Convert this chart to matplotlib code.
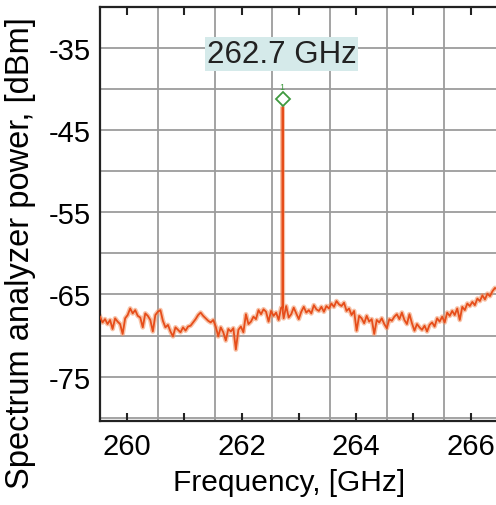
import matplotlib
matplotlib.use("Agg")
import matplotlib.pyplot as plt
import numpy as np

plt.rcParams["font.family"] = ["Liberation Sans", "DejaVu Sans"]
plt.rcParams["axes.unicode_minus"] = False

# noise floor of the spectrum analyzer trace
noise_power = [
    -67.7, -68.4, -68.0, -68.6, -68.1, -69.2, -67.9, -68.3,
    -68.6, -69.8, -67.9, -67.5, -66.7, -67.3, -66.9, -67.6,
    -67.8, -69.0, -67.3, -67.6, -68.1, -69.5, -67.5, -67.1,
    -66.9, -68.2, -69.0, -68.7, -69.5, -70.1, -69.0, -69.3,
    -69.6, -69.0, -69.4, -68.9, -68.8, -68.4, -68.0, -67.5,
    -67.2, -67.6, -67.9, -68.2, -68.4, -68.1, -68.9, -70.1,
    -69.0, -69.6, -70.6, -69.2, -69.5, -69.1, -71.7, -69.3,
    -68.9, -69.6, -67.4, -68.6, -68.3, -67.7, -68.0, -66.9,
    -67.4, -66.8, -67.1, -68.3, -67.0, -67.6, -67.2, -68.1,
    -66.6, -67.9, -66.4, -67.8, -67.4, -66.6, -67.3, -68.0,
    -67.1, -66.5, -67.2, -66.9, -67.3, -66.3, -66.8, -67.0,
    -66.5, -67.1, -66.4, -66.7, -66.1, -66.5, -65.8, -66.2,
    -66.4, -66.0, -67.0, -66.7, -67.5, -67.0, -69.4, -67.6,
    -67.9, -68.5, -67.6, -68.3, -68.0, -69.8, -68.1, -68.4,
    -67.9, -68.6, -69.1, -68.0, -68.2, -67.7, -67.4, -68.0,
    -67.2, -68.1, -68.6, -67.4, -68.5, -69.4, -68.6, -69.0,
    -69.3, -68.8, -69.5, -68.7, -68.4, -68.9, -67.9, -68.3,
    -67.7, -68.4, -67.2, -67.6, -67.0, -67.5, -66.7, -68.1,
    -66.5, -66.9, -66.1, -66.4, -65.9, -66.3, -65.5, -65.8,
    -65.1, -65.6, -64.9, -65.2, -64.6, -64.2, -64.4, -63.9,
]
noise_freq = np.linspace(259.53, 266.51, len(noise_power))

peak_freq = 262.717
peak_power = -42.2
marker_power = -41.2
peak_label = "262.7 GHz"

x_ticks = [260, 262, 264, 266]
x_minor = [261, 263, 265]
y_ticks = [-35, -45, -55, -65, -75]
grid_freqs = [260.54, 261.54, 262.54, 263.54, 264.54, 265.54]
grid_powers = [-35, -40, -45, -50, -55, -60, -65, -70, -75, -80]

# splice the carrier into the trace
freq = np.append(noise_freq, [peak_freq - 0.004, peak_freq, peak_freq + 0.004])
power = np.append(noise_power, [-66.6, peak_power, -67.2])
order = np.argsort(freq)
freq, power = freq[order], power[order]

fig = plt.figure(figsize=(4.96, 5.06), dpi=100)
ax = fig.add_axes([100 / 496, 84 / 506, 396 / 496, 414 / 506])

for g in grid_freqs:
    ax.axvline(g, color="#9c9c9c", lw=1.3, zorder=0)
for g in grid_powers:
    ax.axhline(g, color="#9c9c9c", lw=1.3, zorder=0)

ax.plot(freq, power, color="#f29060", lw=3.4, alpha=0.55, zorder=2)
ax.plot(freq, power, color="#e64d1a", lw=1.3, zorder=3)
ax.plot([peak_freq], [marker_power], marker="D", ms=7, mfc="white",
        mec="#3f9a3f", mew=1.3, ls="none", zorder=4)
ax.text(peak_freq - 0.02, marker_power + 1.5, "1", color="#3f9a3f",
        fontsize=6.5, ha="center", va="center", zorder=4)
ax.text(262.70, -35.75, peak_label, fontsize=22.5, color="#222222",
        ha="center", va="center", zorder=5,
        bbox=dict(boxstyle="square,pad=0.06", fc="#d5eaea", ec="none"))

ax.set_xlim(259.53, 266.44)
ax.set_ylim(-80.4, -30.0)
ax.set_xticks(x_ticks)
ax.set_xticks(x_minor, minor=True)
ax.set_yticks(y_ticks)
ax.tick_params(axis="x", which="both", direction="in", top=True, bottom=True,
               length=6, width=1.5, color="#222222", labelsize=21, pad=8)
ax.tick_params(axis="y", length=0, labelsize=21, pad=6.5)

for side in ["left", "top", "bottom"]:
    ax.spines[side].set_linewidth(1.6)
    ax.spines[side].set_color("#222222")
ax.spines["right"].set_visible(False)

ax.set_xlabel("Frequency, [GHz]", fontsize=21.5)
ax.xaxis.set_label_coords(0.4765, -0.113)
ax.xaxis.label.set_va("top")
ax.set_ylabel("Spectrum analyzer power, [dBm]", fontsize=23.5)
ax.yaxis.set_label_coords(-0.2, 0.408)
ax.yaxis.label.set_va("center")

fig.savefig("out.png", dpi=100)
